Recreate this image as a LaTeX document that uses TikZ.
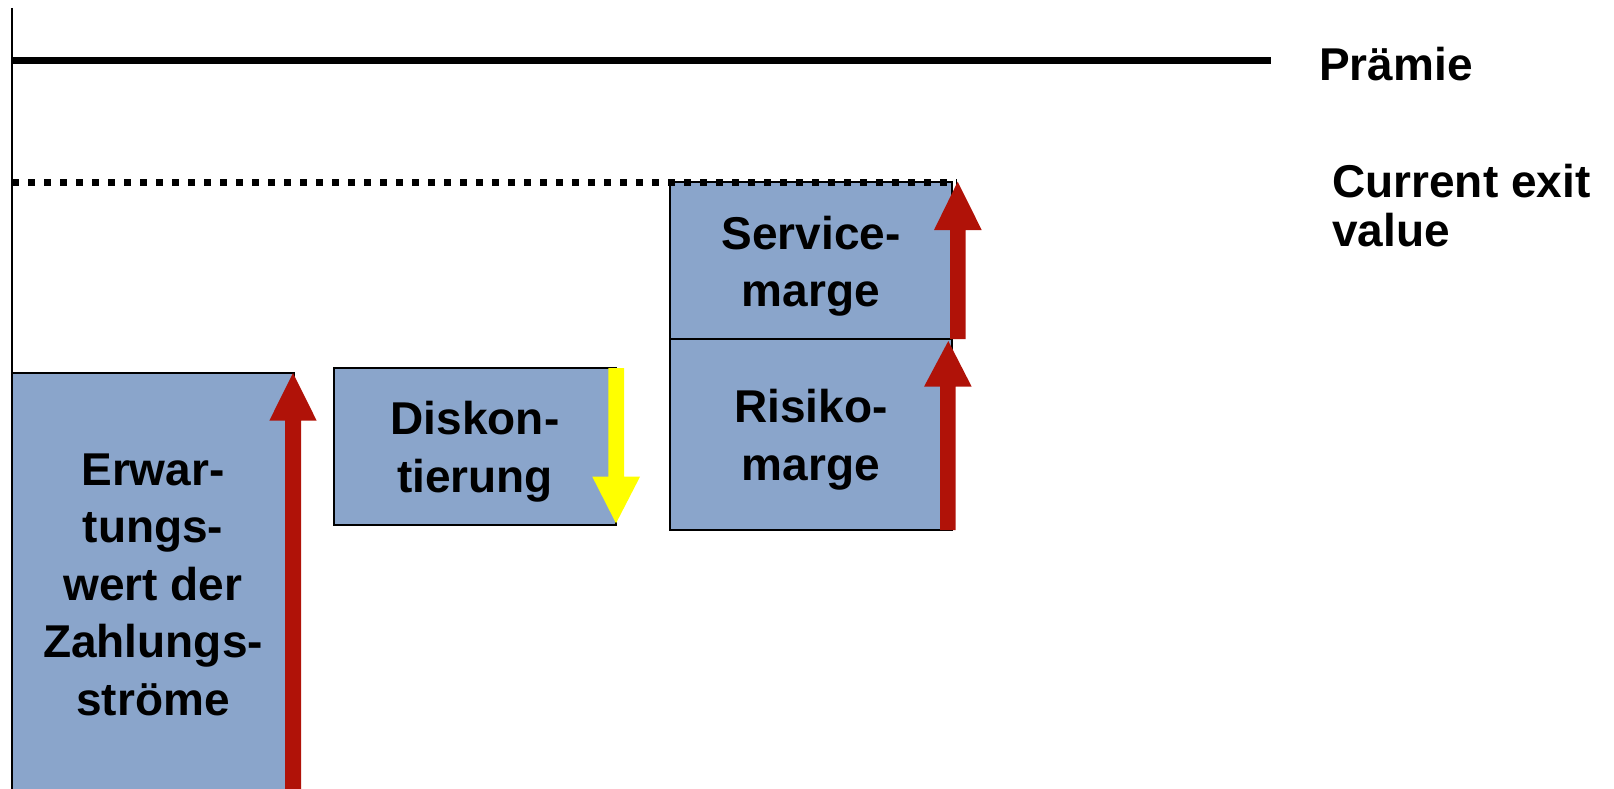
\documentclass[tikz,border=0pt]{standalone}
\usepackage{fontspec}
\setmainfont{Liberation Sans}
\definecolor{boxblue}{RGB}{138,165,203}
\definecolor{arrred}{RGB}{176,18,8}
\definecolor{arryel}{RGB}{255,255,0}
\tikzset{
  valbox/.style={draw=black,line width=1.6pt,fill=boxblue},
  lbl/.style={font=\bfseries\fontsize{46}{57.5}\selectfont,align=center,inner sep=0pt,anchor=base},
  sidelbl/.style={font=\bfseries\fontsize{46}{48.5}\selectfont,align=left,inner sep=0pt,anchor=base west},
  redarr/.style={fill=arrred,draw=none},
  yelarr/.style={fill=arryel,draw=none}
}
\begin{document}
\begin{tikzpicture}[x=1pt,y=-1pt]
\useasboundingbox (0,0) rectangle (1614,789);
% boxes
\draw[valbox] (12,373) rectangle (294,800);
\draw[valbox] (334,368) rectangle (616,525);
\draw[valbox] (670,182) rectangle (952,339);
\draw[valbox] (670,339) rectangle (952,530);
% axis and lines
\draw[line width=1.7pt] (12.3,8) -- (12.3,789);
\draw[line width=7pt] (12,60.3) -- (1271,60.3);
\draw[line width=7pt,dash pattern=on 7pt off 9pt] (12,182.7) -- (957,182.7);
% arrows
\fill[redarr] (285,789) -- (285,420.7) -- (269.3,420.7) -- (293,373) -- (316.7,420.7) -- (301,420.7) -- (301,789) -- cycle;
\fill[yelarr] (608.3,368) -- (608.3,476.7) -- (592.3,476.7) -- (616,523.3) -- (640,476.7) -- (624,476.7) -- (624,368) -- cycle;
\fill[redarr] (950,339) -- (950,230) -- (934,230) -- (957.7,181.7) -- (981.7,230) -- (965.7,230) -- (965.7,339) -- cycle;
\fill[redarr] (940,530) -- (940,386.7) -- (924,386.7) -- (948.3,341) -- (971.7,386.7) -- (955.7,386.7) -- (955.7,530) -- cycle;
% labels (anchor base = last line's baseline)
\node[lbl] (erw) at (153,715) {Erwar-\\tungs-\\wert der\\Zahlungs-\\ströme};
\node[lbl] (disk) at (475,492) {Diskon-\\tierung};
\node[lbl] (serv) at (811,306.7) {Service-\\marge};
\node[lbl] (risk) at (811,480) {Risiko-\\marge};
\node[sidelbl] (praem) at (1319,81) {Prämie};
\node[sidelbl] (cev) at (1332,246) {Current exit\\value};
\end{tikzpicture}
\end{document}
